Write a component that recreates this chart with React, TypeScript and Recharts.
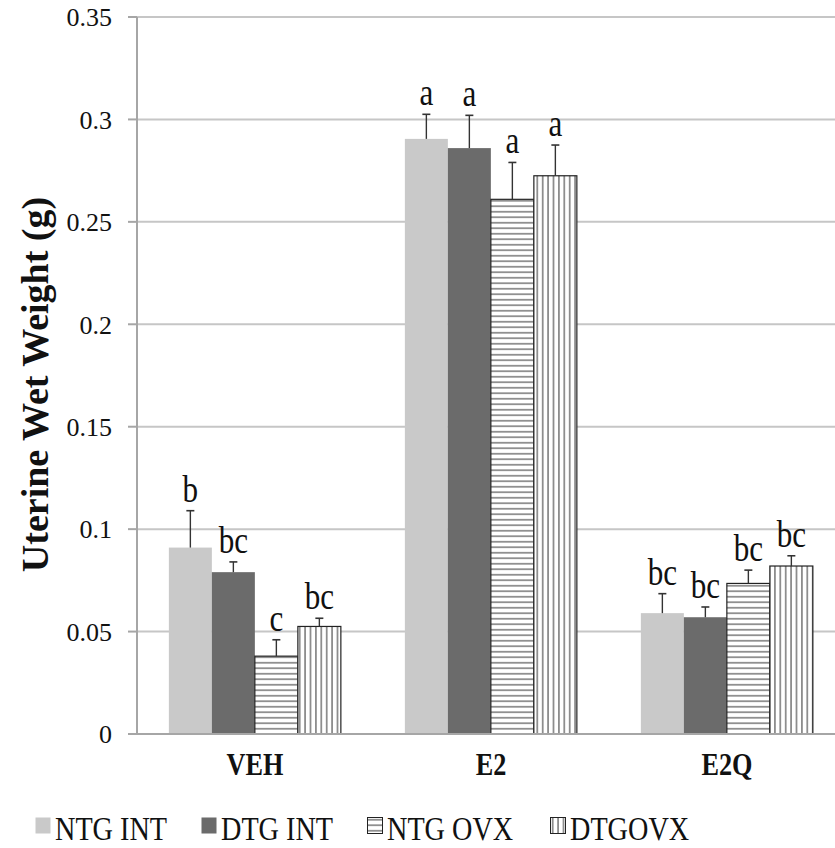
import { Bar, BarChart, CartesianGrid, XAxis, YAxis } from "recharts";

const CATEGORIES = ["VEH", "E2", "E2Q"];

const NTG_INT = [0.091, 0.2905, 0.059];
const NTG_INT_ERR = [0.018, 0.012, 0.0095];
const NTG_INT_SIG = ["b", "a", "bc"];

const DTG_INT = [0.079, 0.286, 0.057];
const DTG_INT_ERR = [0.005, 0.016, 0.005];
const DTG_INT_SIG = ["bc", "a", "bc"];

const NTG_OVX = [0.038, 0.261, 0.0735];
const NTG_OVX_ERR = [0.008, 0.018, 0.0065];
const NTG_OVX_SIG = ["c", "a", "bc"];

const DTG_OVX = [0.0525, 0.2725, 0.082];
const DTG_OVX_ERR = [0.004, 0.015, 0.005];
const DTG_OVX_SIG = ["bc", "a", "bc"];

const Y_TICKS = [0, 0.05, 0.1, 0.15, 0.2, 0.25, 0.3, 0.35];

const SERIF = "Liberation Serif, Tinos, Times New Roman, DejaVu Serif, serif";

const SERIES = [
  { key: "ntgInt", label: "NTG INT", values: NTG_INT, errors: NTG_INT_ERR, sig: NTG_INT_SIG, fill: "#c9c9c9", stroke: "none" },
  { key: "dtgInt", label: "DTG INT", values: DTG_INT, errors: DTG_INT_ERR, sig: DTG_INT_SIG, fill: "#6b6b6b", stroke: "none" },
  { key: "ntgOvx", label: "NTG OVX", values: NTG_OVX, errors: NTG_OVX_ERR, sig: NTG_OVX_SIG, fill: "url(#hstripe)", stroke: "#222" },
  { key: "dtgOvx", label: "DTGOVX", values: DTG_OVX, errors: DTG_OVX_ERR, sig: DTG_OVX_SIG, fill: "url(#vstripe)", stroke: "#222" },
] as const;

const data = CATEGORIES.map((cat, i) => {
  const row: Record<string, string | number> = { cat };
  SERIES.forEach((s) => {
    row[s.key] = s.values[i];
    row[`${s.key}Err`] = s.errors[i];
    row[`${s.key}Sig`] = s.sig[i];
  });
  return row;
});

type Series = (typeof SERIES)[number];

// bar + one-sided error whisker + significance letter, all in the bar's own pixel scale
function makeShape(s: Series) {
  return (props: any) => {
    const { x, y, width, height, payload } = props;
    const value = Number(payload[s.key]);
    const err = Number(payload[`${s.key}Err`]);
    const pxPerUnit = value > 0 ? height / value : 0;
    const top = y - err * pxPerUnit;
    const cx = x + width / 2;
    return (
      <g>
        <rect
          x={x}
          y={y}
          width={width}
          height={height}
          fill={s.fill}
          stroke={s.stroke}
          strokeWidth={s.stroke === "none" ? 0 : 1.2}
        />
        <line x1={cx} x2={cx} y1={y} y2={top} stroke="#333" strokeWidth={1.4} />
        <line x1={cx - 4} x2={cx + 4} y1={top} y2={top} stroke="#333" strokeWidth={1.6} />
        <text
          transform={`translate(${cx},${top - 9}) scale(0.82,1)`}
          textAnchor="middle"
          style={{ fontFamily: SERIF }}
          fontSize={38}
          fill="#111"
        >
          {String(payload[`${s.key}Sig`])}
        </text>
      </g>
    );
  };
}

function XTick(props: any) {
  const { x, y, payload } = props;
  return (
    <text
      transform={`translate(${x},${y + 41}) scale(0.82,1)`}
      textAnchor="middle"
      style={{ fontFamily: SERIF }}
      fontWeight="bold"
      fontSize={32}
      fill="#111"
    >
      {payload.value}
    </text>
  );
}

function YTitle(props: any) {
  const { viewBox } = props;
  const cy = viewBox.y + viewBox.height / 2 + 9;
  return (
    <text
      transform={`translate(${48},${cy}) rotate(-90)`}
      textAnchor="middle"
      style={{ fontFamily: SERIF }}
      fontWeight="bold"
      fontSize={38}
      fill="#111"
    >
      Uterine Wet Weight (g)
    </text>
  );
}

function LegendMarker({ s }: { s: Series }) {
  return (
    <svg width={16} height={17} style={{ marginTop: 5, marginRight: 4, flex: "none" }}>
      <rect
        x={0.5}
        y={0.5}
        width={15}
        height={16}
        fill={s.fill}
        stroke={s.stroke}
        strokeWidth={s.stroke === "none" ? 0 : 1}
      />
    </svg>
  );
}

export default function App() {
  return (
    <div
      style={{
        position: "absolute",
        left: 0,
        top: 0,
        width: 835,
        height: 848,
        overflow: "hidden",
        background: "#fff",
        fontFamily: SERIF,
      }}
    >
      <BarChart
        width={850}
        height={848}
        data={data}
        margin={{ top: 17, right: 5, left: 0, bottom: 64 }}
        barCategoryGap="13.5%"
        barGap={0}
        style={{ fontFamily: SERIF }}
      >
        <defs>
          <pattern id="hstripe" patternUnits="userSpaceOnUse" width={8} height={5.5}>
            <rect width={8} height={5.5} fill="#fff" />
            <line x1={0} x2={8} y1={2.75} y2={2.75} stroke="#333" strokeWidth={1} />
          </pattern>
          <pattern id="vstripe" patternUnits="userSpaceOnUse" width={5.4} height={8}>
            <rect width={5.4} height={8} fill="#fff" />
            <line x1={2.7} x2={2.7} y1={0} y2={8} stroke="#333" strokeWidth={1} />
          </pattern>
        </defs>
        <CartesianGrid horizontal vertical={false} stroke="#c6c6c6" strokeWidth={2} />
        <XAxis
          dataKey="cat"
          height={50}
          tickLine={false}
          tickSize={0}
          tickMargin={0}
          axisLine={{ stroke: "#a6a6a6", strokeWidth: 2 }}
          tick={(p: any) => <XTick {...p} />}
        />
        <YAxis
          width={137}
          domain={[0, 0.35]}
          ticks={Y_TICKS}
          interval={0}
          tickSize={9}
          tickMargin={16}
          tickLine={{ stroke: "#a6a6a6", strokeWidth: 2 }}
          axisLine={{ stroke: "#a6a6a6", strokeWidth: 2 }}
          tick={{ fill: "#111", fontSize: 26, style: { fontFamily: SERIF } }}
          tickFormatter={(n: number) => String(n)}
          label={(p: any) => <YTitle {...p} />}
        />
        {SERIES.map((s) => (
          <Bar
            key={s.key}
            dataKey={s.key}
            name={s.label}
            fill={s.fill}
            isAnimationActive={false}
            shape={makeShape(s)}
          />
        ))}
      </BarChart>
      <div
        style={{
          position: "absolute",
          left: 35,
          top: 812,
          display: "flex",
          gap: 11,
          fontSize: 34,
          lineHeight: 1,
          color: "#111",
          whiteSpace: "nowrap",
        }}
      >
        {SERIES.map((s) => (
          <div key={s.key} style={{ display: "flex", alignItems: "flex-start" }}>
            <LegendMarker s={s} />
            <span style={{ display: "inline-block", transform: "scaleX(0.83)", transformOrigin: "left center" }}>
              {s.label}
            </span>
          </div>
        ))}
      </div>
    </div>
  );
}
